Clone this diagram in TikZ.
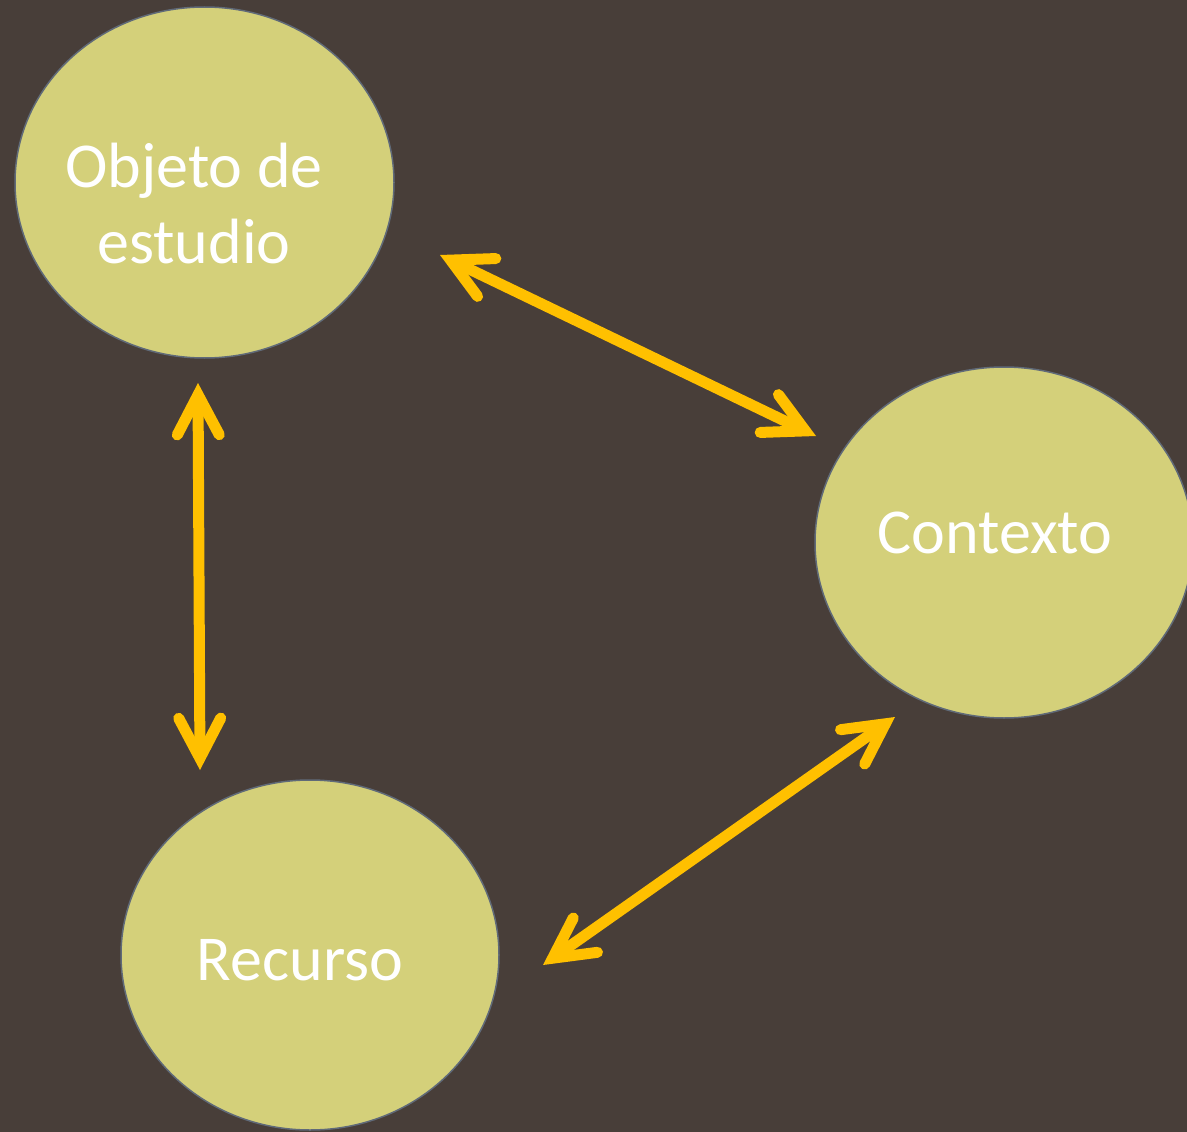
\documentclass[tikz,border=0pt]{standalone}
\usepackage{fontspec}
\setmainfont{Carlito}
\usetikzlibrary{arrows.meta}
\definecolor{bgc}{RGB}{72,62,57}
\definecolor{fillc}{RGB}{212,208,122}
\definecolor{edgec}{RGB}{96,106,120}
\definecolor{arrc}{RGB}{255,192,0}
\tikzset{
  blob/.style={draw=edgec, line width=1.5pt, fill=fillc},
  lbl/.style={text=white, font=\fontsize{64}{76}\selectfont, inner sep=0pt},
  barbtip/.tip={Straight Barb[length=40pt, width=42pt, line width=11pt, line cap=round, line join=miter]},
  link/.style={draw=arrc, line width=11pt, line cap=round, barbtip-barbtip},
}
\begin{document}
\begin{tikzpicture}[x=1pt, y=-1pt]
\useasboundingbox (0,0) rectangle (1187,1132);
\clip (0,0) rectangle (1187,1132);
\fill[bgc] (0,0) rectangle (1187,1132);
\draw[blob] (204.5,182.5) ellipse [x radius=189.5, y radius=175.5];
\draw[blob] (1004,542.5) ellipse [x radius=189, y radius=175.5];
\draw[blob] (310,955) ellipse [x radius=189, y radius=175];
\node[lbl, align=center, anchor=base] (obj) at (194,263) {Objeto de\\estudio};
\node[lbl, anchor=base] (ctx) at (995,553) {Contexto};
\node[lbl, anchor=base] (rec) at (300,980) {Recurso};
\coordinate (a1) at (440,255);
\coordinate (a2) at (816,436);
\coordinate (b1) at (198,383);
\coordinate (b2) at (200,770);
\coordinate (c1) at (543,965);
\coordinate (c2) at (895,717);
\draw[link] (a1) -- (a2);
\draw[link] (b1) -- (b2);
\draw[link] (c1) -- (c2);
\end{tikzpicture}
\end{document}
